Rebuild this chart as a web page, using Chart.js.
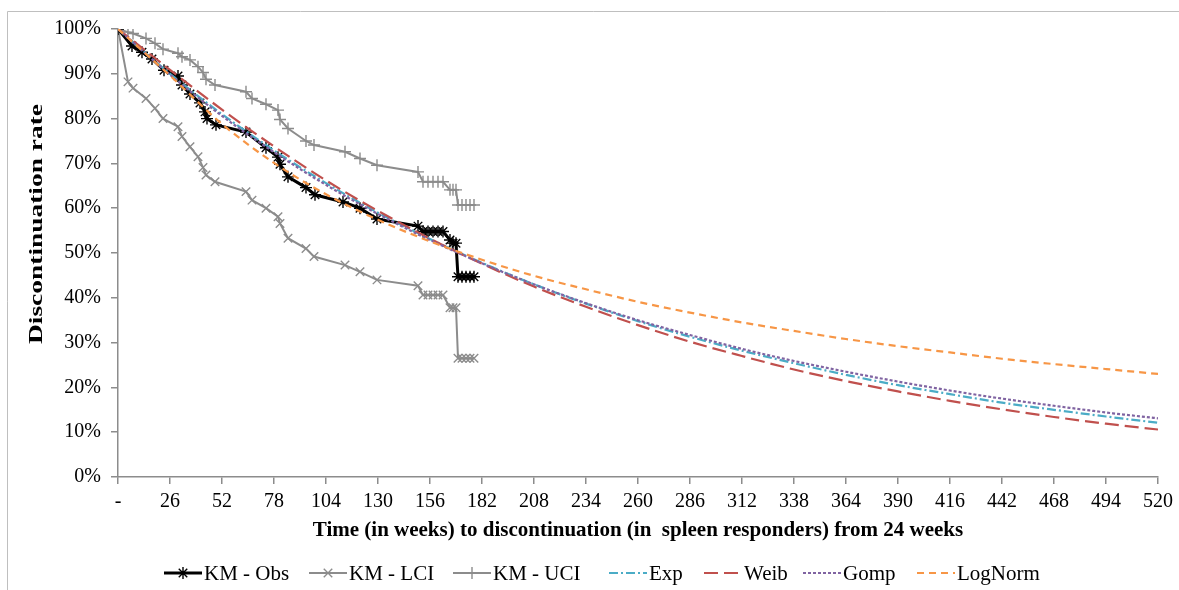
<!DOCTYPE html>
<html>
<head>
<meta charset="utf-8">
<script src="https://cdn.jsdelivr.net/npm/chart.js@4.4.1/dist/chart.umd.min.js"></script>
<style>
  html, body { margin: 0; padding: 0; background: #fff; }
</style>
</head>
<body>
<canvas id="km-chart" width="1179" height="590"></canvas>
<script>
// Kaplan-Meier observed curve (weeks, % still on treatment)
const obsWeeks = [0, 7, 12, 17, 23, 30, 32, 36, 41, 43.5, 44.5, 49, 64, 74, 80, 81, 85, 94, 98.5, 112.5,
  121, 129.5, 150, 152.5, 155, 157.5, 160, 162.5, 166, 167.5, 169, 170, 172, 174, 176, 178];
const obsRate = [100, 96.2, 94.8, 93.3, 90.8, 89.5, 87.5, 85.5, 83.5, 81.5, 80, 78.6, 77, 73.5, 71.4, 69.8, 67, 64.6, 63, 61.4,
  60, 57.6, 56, 54.8, 54.8, 54.8, 54.8, 54.8, 52.9, 52.2, 52.2, 44.7, 44.7, 44.7, 44.7, 44.7];

// confidence limits
const ciWeeks = [0, 5, 7.5, 14, 18.5, 22.5, 30, 32, 36, 40, 42.5, 44, 48.5, 64, 67, 74, 80, 81, 85, 94, 98,
  113.5, 121, 129.5, 150, 152.5, 155, 157.5, 160, 162.5, 166, 167.5, 169, 170, 172, 174, 176, 178];
const lciRate = [100, 88.2, 86.8, 84.5, 82.3, 80, 78.2, 76, 73.7, 71.5, 69.1, 67.4, 65.9, 63.7, 61.8, 60, 58.1, 56.6, 53.3, 51, 49.2,
  47.3, 45.8, 44, 42.7, 40.6, 40.6, 40.6, 40.6, 40.6, 37.8, 37.8, 37.8, 26.5, 26.5, 26.5, 26.5, 26.5];
const uciRate = [100, 99.3, 99, 97.9, 96.8, 95.5, 94.6, 93.8, 93.1, 91.6, 90.3, 88.8, 87.5, 86, 84.5, 83.2, 81.9, 79.8, 77.8, 75, 74.1,
  72.6, 71.1, 69.6, 68.1, 65.9, 65.9, 65.9, 65.9, 65.9, 64.1, 64.1, 64.1, 60.7, 60.7, 60.7, 60.7, 60.7];

// parametric extrapolations, read at the axis ticks
const modelWeeks = [0, 26, 52, 78, 104, 130, 156, 182, 208, 234, 260, 286, 312, 338, 364, 390, 416, 442, 468, 494, 520];
const expRate = [100, 90.0, 81.0, 72.9, 65.6, 59.0, 53.1, 47.8, 43.0, 38.7, 34.8, 31.3, 28.2, 25.4, 22.8, 20.5, 18.5, 16.6, 15.0, 13.5, 12.1];
const weibRate = [100, 90.9, 82.0, 73.8, 66.2, 59.4, 53.2, 47.6, 42.5, 38.0, 33.9, 30.2, 27.0, 24.0, 21.4, 19.1, 17.0, 15.1, 13.4, 11.9, 10.6];
const gompRate = [100, 89.8, 80.6, 72.5, 65.2, 58.7, 52.9, 47.7, 43.0, 38.8, 35.0, 31.7, 28.6, 25.9, 23.5, 21.3, 19.3, 17.5, 15.9, 14.4, 13.1];
const lognormRate = [100, 89.6, 78.8, 70.1, 63.1, 57.4, 52.6, 48.5, 44.9, 41.9, 39.1, 36.7, 34.5, 32.6, 30.8, 29.2, 27.8, 26.4, 25.2, 24.1, 23.0];

const xTitle = 'Time (in weeks) to discontinuation (in  spleen responders) from 24 weeks';
const yTitle = 'Discontinuation rate';

const serif = '"Liberation Serif", "Times New Roman", serif';
const axisGrey = '#8c8c8c';
const kmGrey = '#8c8c8c';

// where each legend label starts (the sample line sits just left of it)
const legendTextX = [204, 349, 493, 649, 744, 843, 957];

const pts = (xs, ys) => xs.map((x, i) => ({ x: x, y: ys[i] }));

function kmSet(label, xs, ys, color, width, style) {
  return {
    label: label,
    data: pts(xs, ys),
    borderColor: color,
    backgroundColor: color,
    borderWidth: width,
    pointStyle: style,
    pointRadius: 6,
    pointBorderWidth: 1.4,
    pointBorderColor: color,
    pointBackgroundColor: color,
    tension: 0,
    fill: false
  };
}

function modelSet(label, ys, color, dash, order) {
  return {
    label: label,
    data: pts(modelWeeks, ys),
    borderColor: color,
    backgroundColor: color,
    borderWidth: 2.2,
    borderDash: dash,
    pointRadius: 0,
    cubicInterpolationMode: 'monotone',
    fill: false,
    order: order
  };
}

// draws the y title (stretched like the source) and the frame
const decorPlugin = {
  id: 'decor',
  afterDraw(chart) {
    const ctx = chart.ctx;
    ctx.save();
    ctx.strokeStyle = '#bfbfbf';
    ctx.lineWidth = 1;
    ctx.beginPath();
    ctx.moveTo(7.5, 600);
    ctx.lineTo(7.5, 11.5);
    ctx.lineTo(1179, 11.5);
    ctx.stroke();

    ctx.translate(37, 224);
    ctx.rotate(-Math.PI / 2);
    ctx.font = 'bold 18px ' + serif;
    ctx.textAlign = 'center';
    ctx.textBaseline = 'middle';
    const w = ctx.measureText(yTitle).width;
    ctx.scale(240 / w, 1);
    ctx.fillStyle = '#000';
    ctx.fillText(yTitle, 0, 0);
    ctx.restore();
  }
};

// legend with line samples and markers
const legendPlugin = {
  id: 'lineLegend',
  afterDraw(chart) {
    const ctx = chart.ctx;
    const y = 573;
    ctx.save();
    ctx.font = '21px ' + serif;
    ctx.textBaseline = 'middle';
    chart.data.datasets.forEach((ds, i) => {
      const tx = legendTextX[i];
      const x = tx - 40;
      ctx.strokeStyle = ds.borderColor;
      ctx.fillStyle = ds.borderColor;
      ctx.lineWidth = ds.borderWidth;
      ctx.setLineDash(ds.borderDash || []);
      ctx.beginPath();
      ctx.moveTo(x, y);
      ctx.lineTo(x + 38, y);
      ctx.stroke();
      ctx.setLineDash([]);
      if (ds.pointRadius > 0) {
        ctx.lineWidth = ds.pointBorderWidth;
        Chart.helpers.drawPoint(ctx, { pointStyle: ds.pointStyle, radius: ds.pointRadius, borderWidth: ds.pointBorderWidth, rotation: 0 }, x + 19, y);
      }
      ctx.fillStyle = '#000';
      ctx.fillText(ds.label, tx, y + 1);
    });
    ctx.restore();
  }
};

const ctx = document.getElementById('km-chart').getContext('2d');
const kmChart = new Chart(ctx, {
  type: 'line',
  plugins: [decorPlugin, legendPlugin],
  data: {
    datasets: [
      Object.assign(kmSet('KM - Obs', obsWeeks, obsRate, '#000000', 3, 'star'), { order: 7 }),
      Object.assign(kmSet('KM - LCI', ciWeeks, lciRate, kmGrey, 2, 'crossRot'), { order: 9 }),
      Object.assign(kmSet('KM - UCI', ciWeeks, uciRate, kmGrey, 2, 'cross'), { order: 8 }),
      modelSet('Exp', expRate, '#4bacc6', [9, 3, 2, 3], 4),
      modelSet('Weib', weibRate, '#c0504d', [14, 6], 3),
      modelSet('Gomp', gompRate, '#8064a2', [3, 2], 2),
      modelSet('LogNorm', lognormRate, '#f79646', [7, 5], 1)
    ]
  },
  options: {
    responsive: false,
    animation: false,
    layout: {
      padding: { top: 29, right: 21, bottom: 43, left: 0 }
    },
    scales: {
      x: {
        type: 'linear',
        min: 0,
        max: 520,
        afterFit: s => { s.height = 70; },
        ticks: {
          stepSize: 26,
          autoSkip: false,
          maxRotation: 0,
          padding: 6,
          color: '#000',
          font: { family: serif, size: 20 },
          callback: v => (v === 0 ? '-' : v)
        },
        grid: { drawOnChartArea: false, drawTicks: true, tickLength: 7, color: axisGrey, lineWidth: 1.5 },
        border: { color: axisGrey, width: 1.5 },
        title: {
          display: true,
          text: xTitle,
          color: '#000',
          font: { family: serif, size: 21, weight: 'bold' },
          padding: { top: 0, bottom: 4 }
        }
      },
      y: {
        min: 0,
        max: 100,
        afterFit: s => { s.width = 118; },
        ticks: {
          stepSize: 10,
          padding: 10,
          color: '#000',
          font: { family: serif, size: 20 },
          callback: v => v + '%'
        },
        grid: { drawOnChartArea: false, drawTicks: true, tickLength: 7, color: axisGrey, lineWidth: 1.5 },
        border: { color: axisGrey, width: 1.5 }
      }
    },
    plugins: {
      legend: { display: false },
      tooltip: { enabled: false }
    }
  }
});
</script>
</body>
</html>
